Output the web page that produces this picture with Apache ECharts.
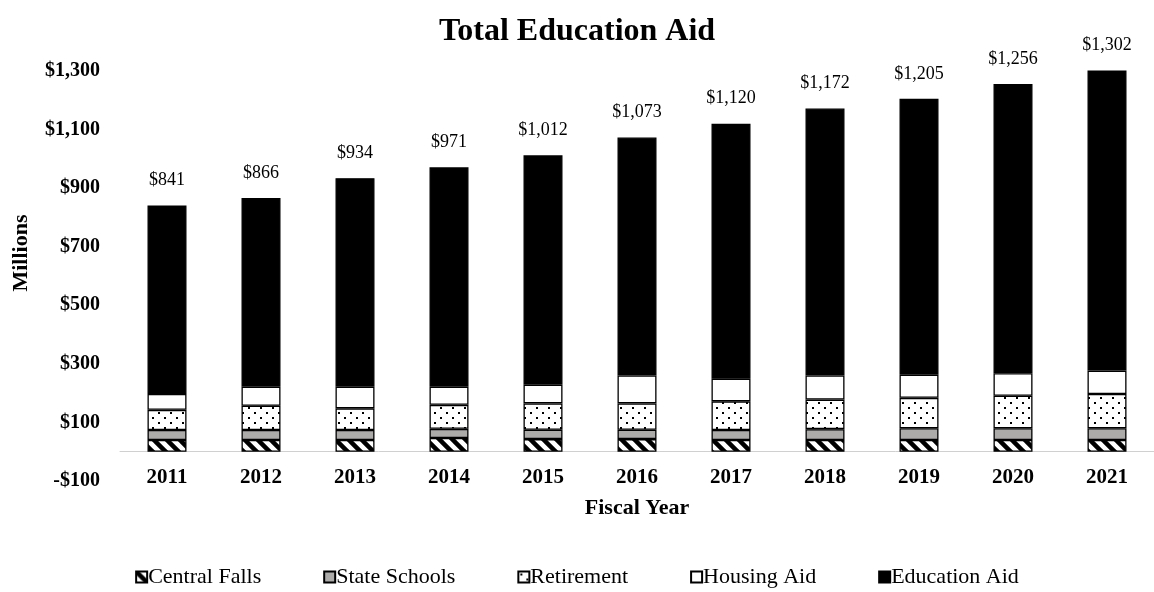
<!DOCTYPE html>
<html>
<head>
<meta charset="utf-8">
<script src="https://cdn.jsdelivr.net/npm/echarts@6/dist/echarts.min.js"></script>
<style>html,body{margin:0;padding:0;background:#fff;}#c{width:1154px;height:592px;}</style>
</head>
<body>
<div id="c"></div>
<script>
const years = ['2011','2012','2013','2014','2015','2016','2017','2018','2019','2020','2021'];
const centralFalls = [40, 40, 40, 47, 43, 43, 40, 40, 40, 40, 40];
const stateSchools = [34, 34, 34, 31, 32, 32, 34, 37, 40, 40, 40];
const retirement   = [69, 83, 74, 82, 90, 90, 98, 101, 104, 111, 117];
const housingAid   = [54, 65, 74, 62, 64, 95, 77, 82, 79, 77, 80];
const totals       = [841, 866, 934, 971, 1012, 1073, 1120, 1172, 1205, 1256, 1302];
const educationAid = totals.map((t, i) => t - centralFalls[i] - stateSchools[i] - retirement[i] - housingAid[i]);
const yTicks = [-100, 100, 300, 500, 700, 900, 1100, 1300];

function hatchPattern() {
  const c = document.createElement('canvas');
  c.width = 13; c.height = 13;
  const g = c.getContext('2d');
  g.fillStyle = '#fff'; g.fillRect(0, 0, 13, 13);
  g.strokeStyle = '#000'; g.lineWidth = 4.5; g.lineCap = 'butt';
  for (let k = -13; k <= 13; k += 13) {
    g.beginPath(); g.moveTo(k - 3, -3); g.lineTo(k + 16, 16); g.stroke();
  }
  return c;
}
function dotPattern() {
  const c = document.createElement('canvas');
  c.width = 12; c.height = 10;
  const g = c.getContext('2d');
  g.fillStyle = '#fff'; g.fillRect(0, 0, 12, 10);
  g.fillStyle = '#000';
  g.fillRect(2, 2, 2, 2);
  g.fillRect(8, 7, 2, 2);
  return c;
}
const FONT = '"Liberation Serif", "Times New Roman", serif';
const chart = echarts.init(document.getElementById('c'));
const base = {
  type: 'bar', stack: 'total', barWidth: 39, clip: false
};
const fmt = v => '$' + v.toLocaleString('en-US');
chart.setOption({
  animation: false,
  textStyle: { fontFamily: FONT },
  title: {
    text: 'Total Education Aid', left: 'center', top: 11,
    textStyle: { fontFamily: FONT, fontSize: 32, fontWeight: 'bold', color: '#000' }
  },
  graphic: [{
    type: 'text', rotation: Math.PI / 2, x: 21, y: 253,
    style: { text: 'Millions', font: 'bold 22px ' + FONT, fill: '#000', textAlign: 'center', textVerticalAlign: 'middle' }
  }],
  grid: { left: 120, right: 0, top: 71, bottom: 111 },
  legend: {
    bottom: -1, left: 'center', itemWidth: 11, itemHeight: 11, itemGap: 62,
    icon: 'rect',
    textStyle: { fontFamily: FONT, fontSize: 22, color: '#000', padding: [0, 0, 0, -4] },
    data: ['Central Falls', 'State Schools', 'Retirement', 'Housing Aid', 'Education Aid']
  },
  xAxis: {
    type: 'category', data: years,
    axisLine: { onZero: true, lineStyle: { color: '#d0d0d0', width: 1 } },
    axisTick: { show: false },
    axisLabel: { margin: -14, fontFamily: FONT, fontSize: 21, fontWeight: 'bold', color: '#000' },
    name: 'Fiscal Year', nameLocation: 'middle', nameGap: 16,
    nameTextStyle: { fontFamily: FONT, fontSize: 22, fontWeight: 'bold', color: '#000' }
  },
  yAxis: {
    type: 'value', min: -100, max: 1300, interval: 200,
    splitLine: { show: false }, axisLine: { show: false }, axisTick: { show: false },
    axisLabel: {
      margin: 20, fontFamily: FONT, fontSize: 20, fontWeight: 'bold', color: '#000',
      formatter: v => yTicks.includes(v) ? (v < 0 ? '-$' + Math.abs(v).toLocaleString('en-US') : '$' + v.toLocaleString('en-US')) : ''
    }
  },
  series: [
    Object.assign({}, base, { name: 'Central Falls', data: centralFalls,
      itemStyle: { color: { image: hatchPattern(), repeat: 'repeat' }, borderColor: '#000', borderWidth: 1.3 } }),
    Object.assign({}, base, { name: 'State Schools', data: stateSchools,
      itemStyle: { color: '#adaaaa', borderColor: '#000', borderWidth: 1.3 } }),
    Object.assign({}, base, { name: 'Retirement', data: retirement,
      itemStyle: { color: { image: dotPattern(), repeat: 'repeat' }, borderColor: '#000', borderWidth: 1.3 } }),
    Object.assign({}, base, { name: 'Housing Aid', data: housingAid,
      itemStyle: { color: '#fff', borderColor: '#000', borderWidth: 1.3 } }),
    Object.assign({}, base, { name: 'Education Aid', data: educationAid,
      itemStyle: { color: '#000', borderColor: '#000', borderWidth: 1.3 },
      label: { show: true, position: 'top', distance: 16, fontFamily: FONT, fontSize: 18, color: '#000',
        formatter: p => fmt(totals[p.dataIndex]) } })
  ]
});
</script>
</body>
</html>
